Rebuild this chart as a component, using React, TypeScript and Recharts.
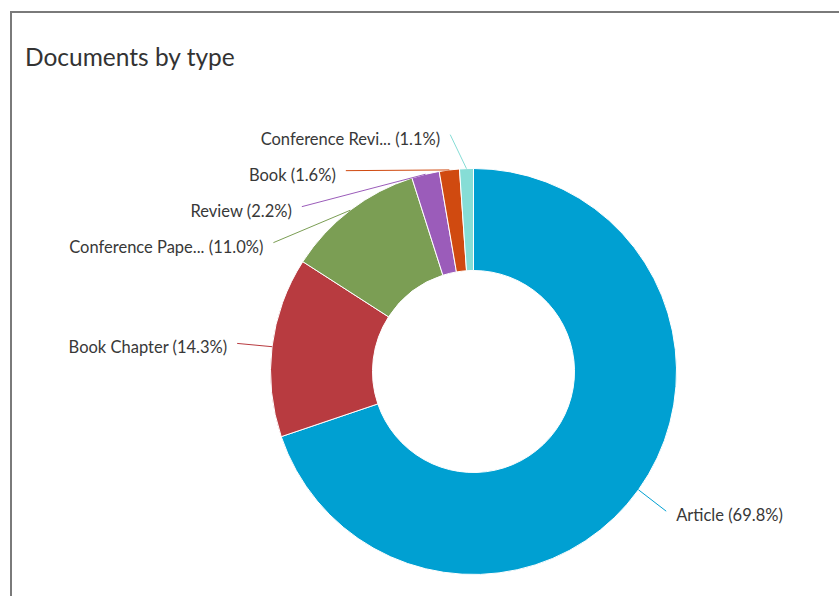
import { Cell, Pie, PieChart } from 'recharts';

const TYPES = [
  'Article',
  'Book Chapter',
  'Conference Pape...',
  'Review',
  'Book',
  'Conference Revi...',
];
const SHARES = [69.8, 14.3, 11.0, 2.2, 1.6, 1.1];
const COLORS = ['#00a0d2', '#b83b40', '#7b9e54', '#9b5cba', '#d04a10', '#86ddd6'];

const data = TYPES.map((name, i) => ({ name, value: SHARES[i] }));

const W = 839;
const H = 596;
const CX = 473.5;
const CY = 371.5;
const OUTER = 203;
const INNER = 101;
const LABEL_R = 238;
const LABEL_GAP = 36;
const FONT = 'Lato, "Open Sans", sans-serif';

type LabelPos = { y: number; side: 'left' | 'right' };

// highcharts-ish label placement: start on a circle, then push apart vertically
function layoutLabels(values: number[]): LabelPos[] {
  const total = values.reduce((s, v) => s + v, 0);
  let acc = 0;
  const pos = values.map((v) => {
    const mid = (acc + v / 2) / total;
    acc += v;
    const theta = mid * Math.PI * 2;
    return {
      y: CY - LABEL_R * Math.cos(theta) + 5,
      side: (Math.sin(theta) >= 0 ? 'right' : 'left') as 'left' | 'right',
    };
  });
  for (const side of ['left', 'right'] as const) {
    const idx = pos
      .map((p, i) => i)
      .filter((i) => pos[i].side === side)
      .sort((a, b) => pos[a].y - pos[b].y);
    for (let k = 1; k < idx.length; k++) {
      const prev = pos[idx[k - 1]].y;
      if (pos[idx[k]].y < prev + LABEL_GAP) pos[idx[k]].y = prev + LABEL_GAP;
    }
  }
  return pos;
}

const labelPos = layoutLabels(SHARES);

function renderLabel(props: any) {
  const { cx, cy, midAngle, outerRadius, index } = props;
  const rad = (-midAngle * Math.PI) / 180;
  const ex = cx + outerRadius * Math.cos(rad);
  const ey = cy + outerRadius * Math.sin(rad);
  const { y, side } = labelPos[index];
  const ly = y - 4;
  const dy = ly - cy;
  const dx = Math.sqrt(Math.max(0, LABEL_R * LABEL_R - dy * dy));
  const lx = side === 'left' ? cx - dx : cx + dx;
  const tx = side === 'left' ? lx - 10 : lx + 10;
  return (
    <g key={`lbl-${index}`}>
      <path d={`M${ex},${ey}L${lx},${ly}`} stroke={COLORS[index]} strokeWidth={1} fill="none" />
      <text
        x={tx}
        y={y}
        textAnchor={side === 'left' ? 'end' : 'start'}
        dominantBaseline="central"
        fontSize={16.5}
        fontFamily={FONT}
        fill="#383838"
      >
        {`${TYPES[index]} (${SHARES[index].toFixed(1)}%)`}
      </text>
    </g>
  );
}

export default function App() {
  return (
    <div
      style={{
        position: 'absolute',
        left: 0,
        top: 0,
        width: W,
        height: H,
        background: '#fff',
        overflow: 'hidden',
      }}
    >
      <div
        style={{
          position: 'absolute',
          left: 10,
          top: 11,
          width: W,
          height: H,
          borderTop: '2px solid #7a7a7a',
          borderLeft: '2px solid #7a7a7a',
        }}
      />
      <div
        style={{
          position: 'absolute',
          left: 25,
          top: 41,
          fontFamily: FONT,
          fontSize: 24.5,
          color: '#333',
          lineHeight: '32px',
        }}
      >
        Documents by type
      </div>
      <PieChart
        width={W}
        height={H}
        margin={{ top: 0, right: 0, bottom: 0, left: 0 }}
        style={{ position: 'absolute', left: 0, top: 0 }}
      >
        <Pie
          data={data}
          dataKey="value"
          nameKey="name"
          cx={CX}
          cy={CY}
          innerRadius={INNER}
          outerRadius={OUTER}
          startAngle={90}
          endAngle={-270}
          stroke="#fff"
          strokeWidth={1}
          label={renderLabel}
          labelLine={false}
          isAnimationActive={false}
        >
          {data.map((d, i) => (
            <Cell key={d.name} fill={COLORS[i]} />
          ))}
        </Pie>
      </PieChart>
    </div>
  );
}
